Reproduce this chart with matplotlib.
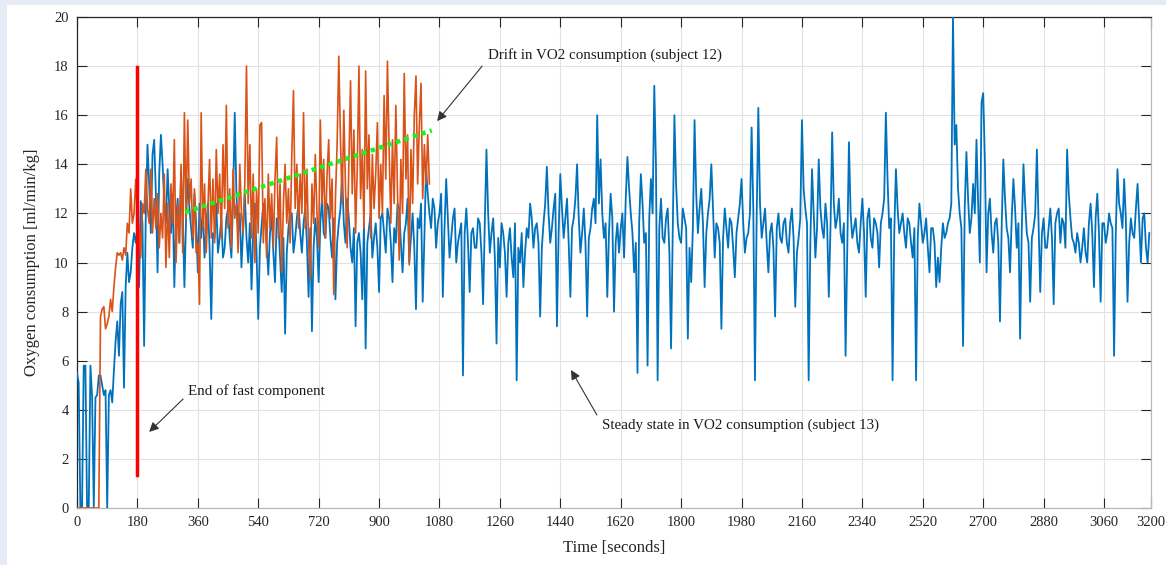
import numpy as np
import matplotlib
matplotlib.use("Agg")
import matplotlib.pyplot as plt
from matplotlib.patches import Rectangle

plt.rcParams['font.family'] = ['Liberation Serif', 'DejaVu Serif']

# subject 13 (steady state), one sample every 5 s
subj13_vo2 = [
    5.5, 5.1, 0, 0, 5.8, 5.8, 0, 0, 5.8, 4.5, 0, 4.5, 4.6, 5.4, 5.4, 5.0, 4.6, 4.8, 0, 4.6,
    4.8, 4.3, 5.6, 6.8, 7.6, 6.2, 8.3, 8.8, 4.9, 9.0, 10.4, 9.2, 9.6, 10.6, 11.2, 10.8, 11.4, 9.0, 12.5, 11.6,
    6.6, 12.0, 14.8, 13.2, 11.2, 14.4, 15.0, 12.8, 9.6, 13.6, 15.2, 14.0, 12.4, 11.6, 13.8, 12.2, 11.2, 12.8, 9.0, 11.8,
    12.6, 10.8, 13.6, 12.0, 9.0, 11.8, 13.4, 12.2, 11.4, 10.6, 12.8, 11.6, 9.6, 12.4, 11.0, 12.2, 10.2, 11.4, 12.4, 10.6,
    7.7, 11.2, 11.0, 12.4, 10.4, 11.0, 11.8, 10.2, 10.6, 11.8, 12.2, 11.0, 10.2, 12.6, 16.1, 12.8, 11.2, 12.0, 9.8, 11.4,
    12.8, 11.0, 10.0, 11.6, 8.9, 11.2, 12.4, 10.4,
    7.7, 10.6, 11.5, 12.4, 11.8, 10.8, 9.5, 11.2, 11.9, 10.4, 9.2, 11.8, 11.6, 10.2, 8.8, 11.0, 7.1, 10.4, 11.4, 12.0,
    12.0, 10.4, 11.0, 11.8, 12.4, 11.2, 10.4, 11.6, 12.2, 10.8, 8.6, 11.4, 7.2, 10.6, 11.8, 11.0, 9.2, 11.6, 12.6, 11.2,
    11.0, 12.4, 12.2, 11.0, 10.2, 11.8, 8.5, 10.8, 11.6, 12.2, 13.6, 11.6, 10.8, 12.6, 11.8, 10.6, 10.0, 11.4, 7.4, 10.8,
    11.2, 10.4, 8.5, 11.6, 6.5, 10.8, 11.4, 12.0, 10.2, 11.0, 11.6, 10.6, 8.8, 11.8, 12.0, 11.2, 10.4, 12.2, 11.8, 10.8,
    9.2, 11.4, 10.8, 12.4, 12.2, 10.8, 9.6, 11.2, 11.6, 12.6, 10.0, 11.0, 12.0, 10.6, 8.1, 11.8, 11.4, 12.4, 8.4, 11.0,
    13.9, 12.8, 12.0, 11.4, 12.6, 12.2,
    10.6, 11.6, 12.0, 12.8, 8.6, 11.4, 13.4, 11.8, 10.2, 11.0, 11.8, 12.2, 10.0, 10.8, 11.2, 11.6, 5.4, 11.2, 12.2, 10.8,
    8.8, 11.2, 11.4, 10.6, 10.6, 11.8, 11.6, 10.4, 8.3, 11.6, 14.6, 12.0, 10.4, 11.2, 11.8, 10.2, 6.7, 11.0, 9.8, 11.6,
    11.2, 10.4, 8.6, 10.8, 11.4, 10.2, 9.4, 11.6, 5.2, 10.6, 10.0, 11.2, 9.0, 10.4, 11.4, 11.0, 12.4, 11.8, 10.6, 11.4,
    11.6, 10.8, 7.8, 10.6, 11.6, 12.4, 13.9, 12.0, 10.8, 11.4, 12.2, 12.8, 7.4, 11.2, 13.6, 12.2, 11.0, 11.8, 12.6, 10.8,
    8.6, 11.4, 11.8, 12.6, 14.0, 11.8, 10.4, 11.2, 12.2, 10.8, 7.8, 11.0, 11.4, 12.2, 12.6, 11.6, 16.0, 12.4, 14.2, 12.0,
    11.0, 11.6, 8.6, 11.2, 12.8, 11.8, 8.0, 10.8, 11.6, 10.4,
    11.4, 12.0, 10.2, 12.6, 14.3, 13.0, 12.0, 11.2, 9.6, 10.8, 5.5, 11.6, 13.6, 12.4, 10.8, 11.2, 5.8, 11.8, 13.4, 12.0,
    17.2, 14.0, 5.2, 11.4, 12.6, 11.0, 10.8, 11.8, 12.2, 10.4, 6.5, 11.2, 16.0, 13.2, 11.6, 11.0, 10.8, 12.2, 11.8, 11.4,
    6.9, 10.6, 9.2, 11.4, 15.8, 12.8, 11.2, 12.2, 13.0, 11.6, 9.0, 11.2, 12.0, 12.6, 14.0, 12.2, 10.2, 11.6, 11.4, 10.8,
    7.3, 11.0, 12.2, 11.4, 10.6, 11.8, 11.6, 10.6, 9.4, 11.2, 11.8, 12.4, 13.4, 11.6, 10.4, 11.0, 11.2, 12.0, 15.5, 12.2,
    5.2, 11.8, 16.3, 12.4, 11.0, 11.6, 12.2, 10.8, 9.6, 11.2, 11.6, 10.6, 7.8, 11.4, 12.0, 11.0, 10.8, 11.6, 11.8, 10.8,
    10.4, 11.6, 12.2, 11.0, 8.2, 10.4, 11.0, 11.8,
    15.8, 13.0, 12.2, 11.6, 5.2, 10.8, 13.8, 12.0, 10.2, 11.4, 14.2, 12.2, 11.4, 11.0, 12.4, 11.6, 8.6, 11.4, 15.3, 12.4,
    11.4, 11.8, 12.6, 11.2, 10.8, 11.6, 6.2, 10.6, 14.9, 12.0, 11.0, 11.4, 11.8, 10.8, 10.4, 11.6, 12.6, 11.2, 8.6, 11.8,
    12.2, 11.0, 10.6, 11.8, 11.6, 11.2, 9.8, 11.6, 12.0, 12.6, 16.1, 13.4, 11.4, 11.8, 5.2, 11.2, 13.8, 12.2, 11.2, 11.6,
    12.0, 11.2, 10.6, 11.8, 11.6, 10.8, 10.2, 11.4, 5.2, 11.0, 12.4, 11.6, 10.8, 11.2, 11.8, 10.6, 9.6, 11.4, 11.4, 10.8,
    9.0, 10.2, 9.2, 10.6, 11.6, 11.0, 11.2, 11.6, 11.8, 12.4, 20.0, 14.8, 15.6, 13.0, 12.0, 11.4, 6.6, 12.2, 14.5, 12.6,
    11.2, 11.8, 13.2, 12.0, 15.0, 12.4,
    10.0, 16.5, 16.9, 14.2, 9.6, 12.0, 12.6, 11.2, 10.4, 11.6, 11.8, 10.8, 7.6, 11.4, 14.2, 12.6, 11.4, 11.0, 9.6, 11.8,
    13.4, 12.2, 10.6, 11.6, 6.9, 11.4, 14.0, 12.4, 11.2, 10.8, 8.4, 11.0, 11.4, 12.0, 14.6, 11.6, 8.8, 11.2, 11.8, 10.6,
    10.6, 11.4, 12.2, 11.0, 8.3, 11.6, 12.0, 12.2, 10.8, 11.8, 11.6, 10.6, 14.6, 12.8, 11.8, 11.0, 10.8, 10.4, 11.2, 10.8,
    10.0, 10.6, 11.4, 10.4, 10.0, 11.6, 12.4, 11.2, 9.0, 11.8, 12.8, 11.2, 8.4, 11.6, 11.6, 10.8, 11.2, 12.0, 11.6, 11.4,
    6.2, 11.2, 13.8, 12.4, 12.0, 11.4, 13.4, 11.8, 8.4, 10.8, 11.8, 11.2, 11.0, 12.2, 13.2, 11.6, 10.0, 11.8, 12.0, 10.6,
    10.0, 11.2,
]
subj13_step = 5

# subject 12 (drift), one sample every 5 s
subj12_vo2 = [
    0, 0, 0, 0, 0, 0, 0, 0, 0, 0, 0, 0, 0, 0,
    7.8, 8.1, 8.2, 7.3, 7.5, 7.8, 8.5, 8.0, 9.0, 9.8,
    10.4, 10.3, 10.4, 10.1, 10.6, 10.3, 11.6, 11.2, 13.0, 11.6,
    12.0, 13.4, 11.8, 11.4, 10.2, 12.4, 12.0, 13.8, 12.2, 11.6,
    13.8, 11.2, 12.6, 11.4, 12.8, 10.6, 12.0, 11.0, 13.6, 9.8,
    12.4, 10.2, 13.2, 11.6, 15.0, 10.0, 12.4, 10.8, 14.0, 10.4,
    16.1, 11.8, 15.8, 12.4, 13.4, 11.0, 13.0, 10.4, 10.8, 8.3,
    16.1, 11.4, 13.2, 10.4, 12.2, 14.2, 11.0, 13.4, 10.8, 14.6,
    12.0, 13.6, 11.0, 14.8, 12.2, 16.4, 11.4, 13.0, 10.6, 13.8,
    11.8, 12.4, 10.4, 14.0, 12.0, 11.2, 13.2, 18.0, 12.4, 14.8,
    11.0, 13.6, 10.0,
    13.0, 11.2, 15.6, 15.7, 10.8, 12.6, 10.2, 13.6, 11.4, 12.8,
    10.6, 13.4, 15.1, 11.0, 13.2, 9.6, 12.4, 14.0, 11.6, 13.0,
    10.8, 14.4, 17.0, 12.2, 14.0, 11.4, 13.6, 12.0, 16.1, 11.4,
    13.8, 10.8, 9.3, 13.2, 11.6, 14.4, 12.0, 10.6, 15.8, 12.4,
    14.2, 11.0, 13.6, 15.0, 11.8, 13.4, 8.7, 12.6, 14.8, 18.4,
    15.0, 12.4, 16.2, 13.0, 10.6, 14.0, 17.4, 12.8, 15.4, 11.2,
    13.8, 18.0, 12.6, 14.6, 11.4, 17.8, 13.0, 15.2, 11.0, 14.4,
    12.2, 13.6, 15.7, 11.8, 14.0, 12.0, 16.8, 13.4, 18.2, 14.6,
    11.6, 15.0, 12.4, 16.4, 12.8, 10.1, 14.2, 12.0, 17.7, 13.4,
    15.2, 9.9, 14.6, 12.4, 16.0, 17.6, 13.2, 15.6, 17.3, 12.6,
    14.8, 13.2, 15.2, 13.2,
]
subj12_step = 5

# markers drawn on the chart
fast_end_t = 180
fast_end_span = [1.35, 17.95]
drift_t = [322, 1057]
drift_v = [12.05, 15.38]

xticks = [0, 180, 360, 540, 720, 900, 1080, 1260, 1440, 1620, 1800,
          1980, 2160, 2340, 2520, 2700, 2880, 3060, 3200]
yticks = [0, 2, 4, 6, 8, 10, 12, 14, 16, 18, 20]

t13 = np.arange(len(subj13_vo2)) * subj13_step
t12 = np.arange(len(subj12_vo2)) * subj12_step

W, H = 1166, 565
fig = plt.figure(figsize=(W / 100, H / 100), dpi=100, facecolor="#e7ebf5")
fig.patches.append(Rectangle((7 / W, 0), 1, 1 - 5 / H, transform=fig.transFigure,
                             facecolor="white", edgecolor="none", zorder=-10))
ax = fig.add_axes([77 / W, 1 - 508 / H, (1151 - 77) / W, (508 - 17) / H])
ax.set_zorder(1)

ax.plot(t13, subj13_vo2, color="#0072BD", lw=1.3, zorder=3)
ax.plot(t12, subj12_vo2, color="#D95319", lw=1.2, zorder=4)
ax.plot([fast_end_t, fast_end_t], fast_end_span, color="#ff0000", lw=2.5, zorder=5)
ax.plot(drift_t, drift_v, color="#1ff01f", lw=3.2, ls=(0, (1, 1)), zorder=6)

ax.set_xlim(0, 3200)
ax.set_ylim(0, 20)
ax.set_xticks(xticks)
ax.set_yticks(yticks)
ax.grid(True, color="#e2e2e2", lw=0.8)
ax.set_axisbelow(True)
ax.tick_params(direction="in", length=7, width=0.8, top=True, right=True,
               colors="#262626", labelsize=10.5, pad=6)
for s in ["top", "left"]:
    ax.spines[s].set_color("#262626")
for s in ["bottom", "right"]:
    ax.spines[s].set_color("#b8b8b8")
for s in ax.spines.values():
    s.set_linewidth(0.9)

ax.set_xlabel("Time [seconds]", fontsize=12, color="#262626", labelpad=8)
ax.set_ylabel("Oxygen consumption [ml/min/kg]", fontsize=12, color="#262626", labelpad=10)

arrow = dict(arrowstyle="-|>", color="#333333", lw=0.8, mutation_scale=14, shrinkA=0, shrinkB=0)
ax.annotate("", xy=(1073, 15.76), xytext=(1207, 18.0), arrowprops=arrow, zorder=7)
ax.annotate("", xy=(215, 3.1), xytext=(316, 4.44), arrowprops=arrow, zorder=7)
ax.annotate("", xy=(1472, 5.62), xytext=(1549, 3.79), arrowprops=arrow, zorder=7)

ax.text(1225, 18.45, "Drift in VO2 consumption (subject 12)", fontsize=10.8,
        va="center", ha="left", color="#1a1a1a", zorder=8)
ax.text(331, 4.77, "End of fast component", fontsize=10.8,
        va="center", ha="left", color="#1a1a1a", zorder=8)
ax.text(1564, 3.38, "Steady state in VO2 consumption (subject 13)", fontsize=10.8,
        va="center", ha="left", color="#1a1a1a", zorder=8)

fig.savefig("out.png", dpi=100, facecolor=fig.get_facecolor())
